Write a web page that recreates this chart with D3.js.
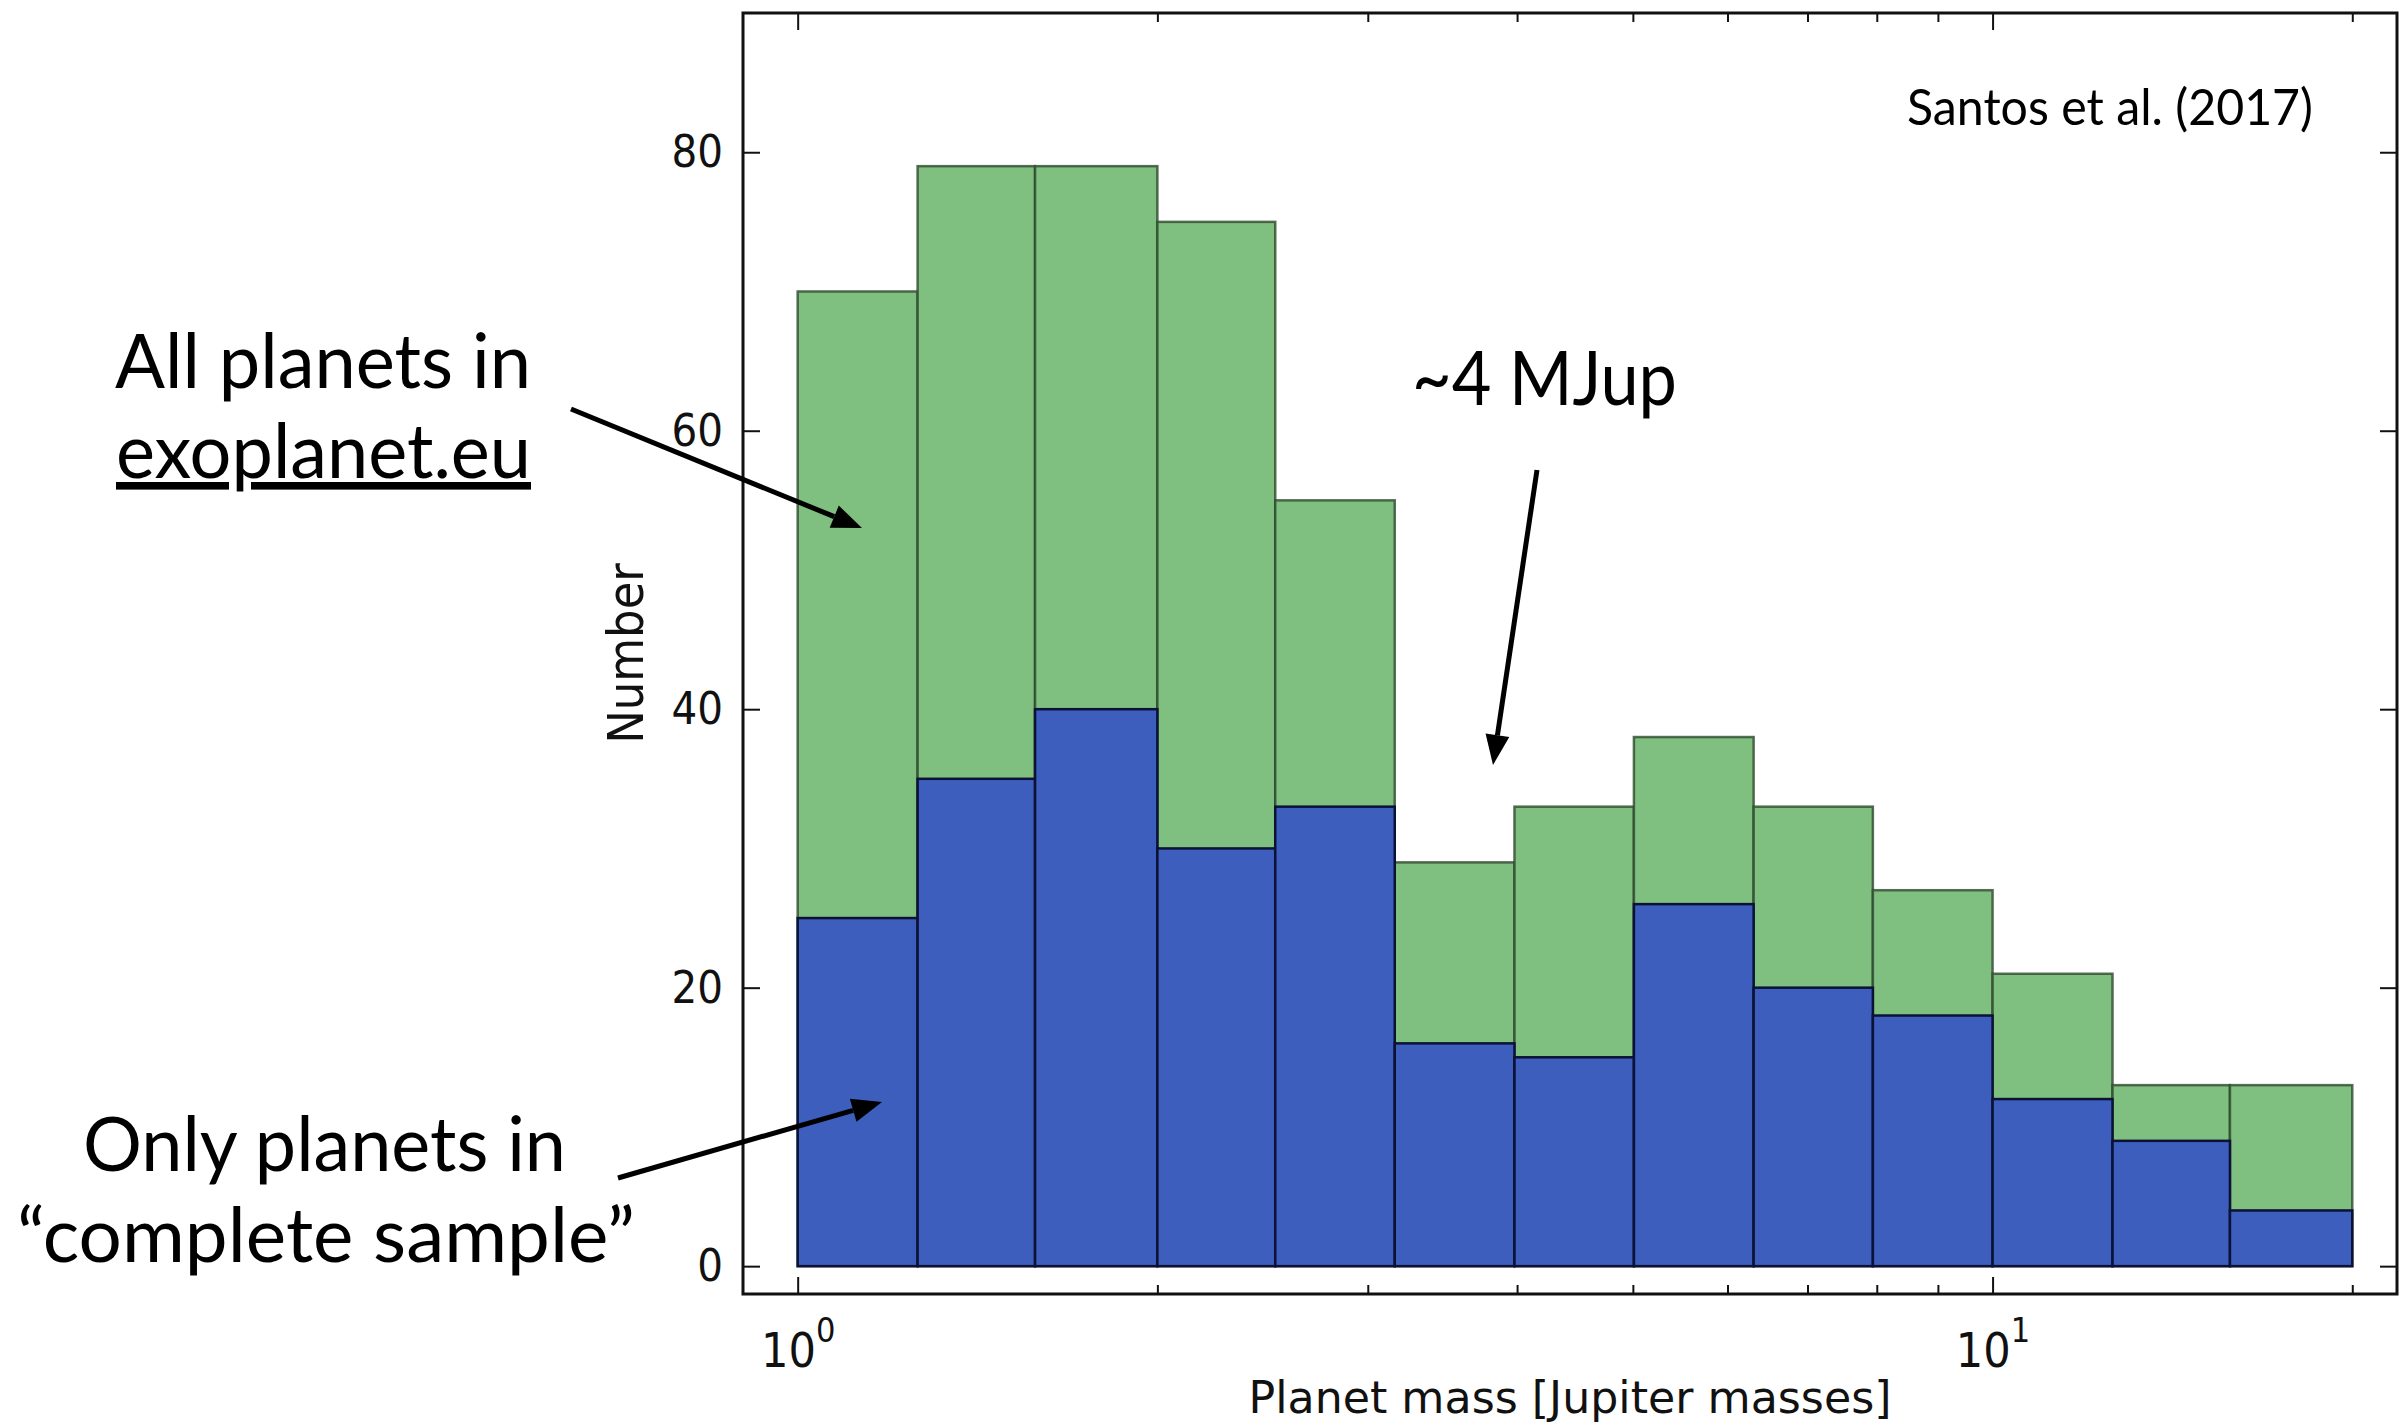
<!DOCTYPE html>
<html>
<head>
<meta charset="utf-8">
<script src="https://cdn.jsdelivr.net/npm/d3@7"></script>
<style>
  html, body { margin: 0; padding: 0; background: #fff; }
  svg { display: block; }
  .tick-label { font-family: "DejaVu Sans Condensed", "DejaVu Sans", sans-serif; fill: #111; }
  .axis-label { font-family: "DejaVu Sans", sans-serif; fill: #111; }
  .note { font-family: Lato, "Open Sans", sans-serif; fill: #000; }
</style>
</head>
<body>
<div id="chart"></div>
<script>
// bin edges (Jupiter masses), log-spaced histogram
const binEdges = [1.0, 1.26, 1.58, 2.0, 2.51, 3.16, 3.98, 5.01, 6.31, 7.94, 10.0, 12.6, 15.8, 20.0];
// all planets in exoplanet.eu
const allPlanets = [70, 79, 79, 75, 55, 29, 33, 38, 33, 27, 21, 13, 13];
// only planets in the complete sample
const completeSample = [25, 35, 40, 30, 33, 16, 15, 26, 20, 18, 12, 9, 4];
const yTicks = [0, 20, 40, 60, 80];
const xMajorTicks = [1, 10];
const xMinorTicks = [2, 3, 4, 5, 6, 7, 8, 9, 20];

const width = 2400;
const height = 1426;
const plot = { left: 743, right: 2397, top: 13, bottom: 1294 };

const svg = d3.select("#chart").append("svg")
  .attr("width", width)
  .attr("height", height);

const x = d3.scaleLog().domain([0.9, 21.8]).range([plot.left, plot.right]);
const y = d3.scaleLinear().domain([-2, 90]).range([plot.bottom, plot.top]);

const bins = allPlanets.map((v, i) => ({
  x0: binEdges[i],
  x1: binEdges[i + 1],
  all: v,
  complete: completeSample[i],
}));

// green: all planets
svg.append("g")
  .selectAll("rect")
  .data(bins)
  .join("rect")
  .attr("x", (d) => x(d.x0))
  .attr("width", (d) => x(d.x1) - x(d.x0))
  .attr("y", (d) => y(d.all))
  .attr("height", (d) => y(0) - y(d.all))
  .attr("fill", "#7fbf7f")
  .attr("stroke", "#2e4a2e")
  .attr("stroke-opacity", 0.8)
  .attr("stroke-width", 2.5);

// blue: complete sample
svg.append("g")
  .selectAll("rect")
  .data(bins)
  .join("rect")
  .attr("x", (d) => x(d.x0))
  .attr("width", (d) => x(d.x1) - x(d.x0))
  .attr("y", (d) => y(d.complete))
  .attr("height", (d) => y(0) - y(d.complete))
  .attr("fill", "#3d5ebd")
  .attr("stroke", "#0b1236")
  .attr("stroke-width", 2.5);

// ticks, all pointing inward
const tickStyle = (g) => {
  g.select(".domain").remove();
  g.selectAll(".tick line").attr("stroke", "#111").attr("stroke-width", 2);
};

svg.append("g")
  .attr("transform", `translate(0,${plot.bottom})`)
  .call(d3.axisBottom(x).tickValues(xMajorTicks).tickSize(-17).tickSizeOuter(0).tickPadding(30).tickFormat(() => ""))
  .call(tickStyle)
  .call((g) => {
    g.selectAll(".tick text")
      .attr("class", "tick-label")
      .attr("font-size", 48)
      .attr("dy", "0.9em")
      .each(function (d) {
        const t = d3.select(this);
        t.append("tspan").text("10");
        t.append("tspan")
          .attr("font-size", 34)
          .attr("dy", "-0.75em")
          .text(Math.round(Math.log10(d)));
      });
  });

svg.append("g")
  .attr("transform", `translate(0,${plot.bottom})`)
  .call(d3.axisBottom(x).tickValues(xMinorTicks).tickSize(-9).tickSizeOuter(0).tickFormat(() => ""))
  .call(tickStyle);

svg.append("g")
  .attr("transform", `translate(0,${plot.top})`)
  .call(d3.axisTop(x).tickValues(xMajorTicks).tickSize(-17).tickSizeOuter(0).tickFormat(() => ""))
  .call(tickStyle);

svg.append("g")
  .attr("transform", `translate(0,${plot.top})`)
  .call(d3.axisTop(x).tickValues(xMinorTicks).tickSize(-9).tickSizeOuter(0).tickFormat(() => ""))
  .call(tickStyle);

svg.append("g")
  .attr("transform", `translate(${plot.left},0)`)
  .call(d3.axisLeft(y).tickValues(yTicks).tickSize(-17).tickSizeOuter(0).tickPadding(20))
  .call(tickStyle)
  .call((g) => g.selectAll(".tick text").attr("class", "tick-label").attr("font-size", 45));

svg.append("g")
  .attr("transform", `translate(${plot.right},0)`)
  .call(d3.axisRight(y).tickValues(yTicks).tickSize(-17).tickSizeOuter(0).tickFormat(() => ""))
  .call(tickStyle);

// frame
svg.append("rect")
  .attr("x", plot.left)
  .attr("y", plot.top)
  .attr("width", plot.right - plot.left)
  .attr("height", plot.bottom - plot.top)
  .attr("fill", "none")
  .attr("stroke", "#111")
  .attr("stroke-width", 3);

// axis labels
svg.append("text")
  .attr("class", "axis-label")
  .attr("x", (plot.left + plot.right) / 2)
  .attr("y", 1413)
  .attr("text-anchor", "middle")
  .attr("font-size", 44)
  .attr("textLength", 643)
  .attr("lengthAdjust", "spacingAndGlyphs")
  .text("Planet mass [Jupiter masses]");

svg.append("text")
  .attr("class", "tick-label")
  .attr("transform", `translate(643,${(plot.top + plot.bottom) / 2}) rotate(-90)`)
  .attr("text-anchor", "middle")
  .attr("font-size", 50)
  .text("Number");

// annotations (pixel width of each line as in the slide)
const notes = [
  { text: "All planets in", x: 115, y: 388, size: 76, len: 416 },
  { text: "exoplanet.eu", x: 116, y: 478, size: 76, len: 415, underline: true },
  { text: "~4 MJup", x: 1412, y: 405, size: 76, len: 265 },
  { text: "Only planets in", x: 83, y: 1171, size: 76, len: 483 },
  { text: "\u201Ccomplete sample\u201D", x: 17, y: 1262, size: 76, len: 618 },
  { text: "Santos et al. (2017)", x: 1907, y: 125, size: 51, len: 406 },
];

svg.append("g")
  .selectAll("text")
  .data(notes)
  .join("text")
  .attr("class", "note")
  .attr("x", (d) => d.x)
  .attr("y", (d) => d.y)
  .attr("font-size", (d) => d.size)
  .attr("textLength", (d) => d.len)
  .attr("lengthAdjust", "spacingAndGlyphs")
  .attr("text-decoration", (d) => (d.underline ? "underline" : null))
  .text((d) => d.text);

const arrows = [
  { x1: 571, y1: 409, x2: 862, y2: 528 },
  { x1: 1537, y1: 470, x2: 1493, y2: 765 },
  { x1: 618, y1: 1178, x2: 882, y2: 1102 },
];

const headLen = 30;
const headHalf = 12;
const arrowG = svg.append("g");
arrows.forEach((a) => {
  const ang = Math.atan2(a.y2 - a.y1, a.x2 - a.x1);
  const bx = a.x2 - headLen * Math.cos(ang);
  const by = a.y2 - headLen * Math.sin(ang);
  arrowG.append("line")
    .attr("x1", a.x1)
    .attr("y1", a.y1)
    .attr("x2", bx)
    .attr("y2", by)
    .attr("stroke", "#000")
    .attr("stroke-width", 5);
  const px = -Math.sin(ang) * headHalf;
  const py = Math.cos(ang) * headHalf;
  arrowG.append("path")
    .attr("d", `M${a.x2},${a.y2}L${bx + px},${by + py}L${bx - px},${by - py}Z`)
    .attr("fill", "#000");
});
</script>
</body>
</html>
